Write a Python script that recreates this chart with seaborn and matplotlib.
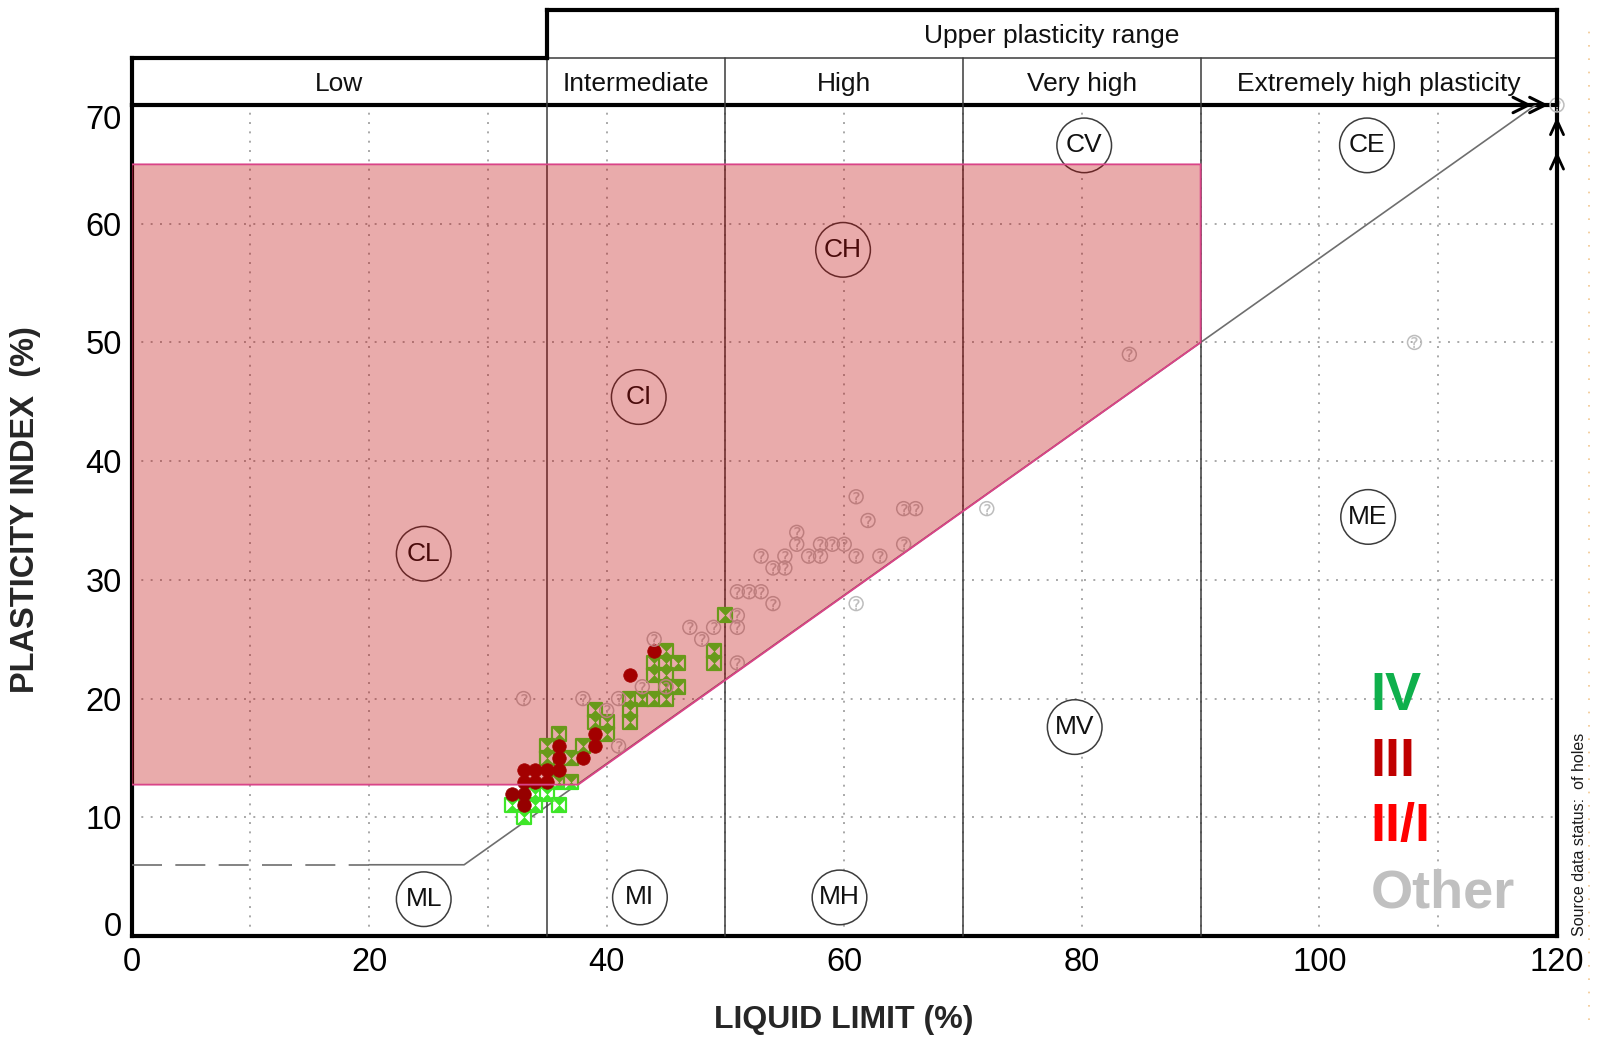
import numpy as np
import seaborn as sns
import matplotlib.pyplot as plt
from matplotlib.patches import Polygon, Circle
from matplotlib.path import Path
from matplotlib.lines import Line2D

# ---- Plasticity chart data: liquid limit (LL, %) and plasticity index (PI, %) ----
iv_ll = [50, 49, 49, 45, 44, 45, 46, 44, 45, 45, 46, 42, 43, 44, 45, 42, 42,
         39, 39, 40, 40, 36, 35, 35, 37, 38, 36, 37, 34, 35, 32, 34, 36, 33]
iv_pi = [27, 24, 23, 24, 23, 23, 23, 22, 22, 21, 21, 20, 20, 20, 20, 19, 18,
         19, 18, 18, 17, 17, 16, 15, 15, 16, 13, 13, 12, 12, 11, 11, 11, 10]

iii_ll = [44, 42, 39, 39, 38, 36, 36, 33, 34, 35, 36, 33, 34, 35, 32, 33, 33]
iii_pi = [24, 22, 17, 16, 15, 16, 15, 14, 14, 14, 14, 13, 13, 13, 12, 12, 11]

other_ll = [61, 65, 66, 72, 62, 56, 56, 58, 59, 60, 65, 53, 55, 57, 58, 61, 63,
            54, 55, 51, 52, 53, 54, 61, 51, 51, 47, 49, 48, 44, 51, 33, 38, 41,
            40, 43, 45, 41, 84, 108, 120]
other_pi = [37, 36, 36, 36, 35, 34, 33, 33, 33, 33, 33, 32, 32, 32, 32, 32, 32,
            31, 31, 29, 29, 29, 28, 28, 27, 26, 26, 26, 25, 25, 23, 20, 20, 20,
            19, 21, 21, 16, 49, 50, 70]

# A-line (solid) and its dashed low-plasticity continuation
aline_ll = [20, 28, 90, 118.2]
aline_pi = [6, 6, 50, 70]
uline_ll = [0, 20]
uline_pi = [6, 6]

# Highlighted clay zone above the A-line
zone_ll = [0, 90, 90, 37.6, 0]
zone_pi = [65, 65, 50, 12.75, 12.75]

# Plasticity range boundaries and header captions
range_bounds = [35, 50, 70, 90]
range_names = ["Low", "Intermediate", "High", "Very high", "Extremely high plasticity"]
range_centres = [17.5, 42.5, 60, 80, 105]
upper_caption = "Upper plasticity range"

# Soil group symbols
group_names = ["CL", "CI", "CH", "CV", "CE", "ME", "MV", "MH", "MI", "ML"]
group_ll = [24.6, 42.7, 59.9, 80.2, 104.0, 104.1, 79.4, 59.6, 42.8, 24.6]
group_pi = [32.2, 45.4, 57.8, 66.6, 66.6, 35.3, 17.6, 3.25, 3.25, 3.1]

# Class captions
class_names = ["IV", "III", "II/I", "Other"]
class_colors = ["#0fb04c", "#c00000", "#ff0000", "#c0c0c0"]

x_ticks = [0, 20, 40, 60, 80, 100, 120]
y_ticks = [0, 10, 20, 30, 40, 50, 60, 70]
grid_x = list(range(0, 121, 10))

sns.set_theme(style="white")
plt.rcParams["font.family"] = ["Liberation Sans", "DejaVu Sans"]

fig = plt.figure(figsize=(15.99, 10.41), dpi=100)
ax = fig.add_axes([131.5 / 1599, 1 - 936 / 1041, 1425.5 / 1599, 831 / 1041])
ax.set_xlim(0, 120)
ax.set_ylim(0, 70)

ax.set_xticks(x_ticks)
ax.set_xticklabels([str(t) for t in x_ticks])
ax.set_yticks(y_ticks)
ax.set_yticklabels([str(t) for t in y_ticks])
ax.set_xticks(grid_x, minor=True)
ax.grid(True, which="both", color="#a8a8a8", linestyle=(0, (1, 3.8)), linewidth=1.4)
ax.set_axisbelow(True)
ax.tick_params(which="both", length=0, labelsize=23.5, colors="black")
ax.tick_params(axis="x", pad=8)
ax.tick_params(axis="y", pad=7)
ylabs = ax.get_yticklabels()
ylabs[0].set_va("baseline")
ylabs[-1].set_va("top")

for s in ax.spines.values():
    s.set_linewidth(3)
    s.set_color("black")
    s.set_visible(True)

# Header frame
thick = dict(color="black", lw=3, clip_on=False, solid_capstyle="projecting", zorder=12)
ax.plot([0, 0], [70, 74], **thick)
ax.plot([0, 35], [74, 74], **thick)
ax.plot([35, 35], [74, 78], **thick)
ax.plot([35, 120], [78, 78], **thick)
ax.plot([120, 120], [70, 78], **thick)
thin = dict(color="#3a3a3a", lw=1.1, clip_on=False, zorder=6)
ax.plot([35, 120], [74, 74], **thin)
for b in range_bounds:
    ax.plot([b, b], [0, 74], **thin)

for name, xc in zip(range_names, range_centres):
    ax.text(xc, 72, name, ha="center", va="center_baseline", fontsize=19, color="#111111",
            clip_on=False)
ax.text(77.5, 76, upper_caption, ha="center", va="center_baseline", fontsize=19,
        color="#111111", clip_on=False)

# Arrow heads on the top and right frame lines
for xa in [117.6, 119.0]:
    ax.plot([xa - 1.3, xa, xa - 1.3], [70.65, 70, 69.35], color="black", lw=2.2,
            clip_on=False, zorder=13)
for ya in [68.7, 65.8]:
    ax.plot([119.45, 120, 120.55], [ya - 1.2, ya, ya - 1.2], color="black", lw=2.0,
            clip_on=False, zorder=13)

# A-line
ax.plot(aline_ll, aline_pi, color="#6e6e6e", lw=1.2, zorder=3)
ax.plot(uline_ll, uline_pi, color="#6e6e6e", lw=1.2, dashes=(18, 8), zorder=3)

# Group symbols
for name, xc, yc in zip(group_names, group_ll, group_pi):
    ax.add_patch(Circle((xc, yc), 2.3, facecolor="white", edgecolor="#3c3c3c", lw=1.1,
                        zorder=4))
    ax.text(xc, yc, name, ha="center", va="center", fontsize=19, color="#111111",
            zorder=5)

# Sample points
green = "#3ee628"
grey = "#bdbdbd"
hourglass = Path([(-1, 1), (1, 1), (-1, -1), (1, -1), (-1, 1)],
                 [Path.MOVETO, Path.LINETO, Path.LINETO, Path.LINETO, Path.CLOSEPOLY])
sns.scatterplot(x=iv_ll, y=iv_pi, marker="s", s=100, color="white", edgecolor=green,
                linewidth=1.6, ax=ax, zorder=6)
sns.scatterplot(x=iv_ll, y=iv_pi, marker=hourglass, s=100, color=green, edgecolor=green,
                linewidth=0.4, ax=ax, zorder=6)
sns.scatterplot(x=iii_ll, y=iii_pi, marker="o", s=95, color="#960000", edgecolor="#960000",
                linewidth=0.5, ax=ax, zorder=7)
sns.scatterplot(x=other_ll, y=other_pi, marker="o", s=100, facecolor="none",
                edgecolor=grey, linewidth=1.1, ax=ax, zorder=8, clip_on=False)
sns.scatterplot(x=other_ll, y=other_pi, marker="$?$", s=60, color=grey, edgecolor=grey,
                linewidth=0.2, ax=ax, zorder=8, clip_on=False)

# Highlighted zone laid over the chart
ax.add_patch(Polygon(np.column_stack([zone_ll, zone_pi]), closed=True,
                     facecolor=(0.75, 0.0, 0.0, 0.33), edgecolor="#d94488", lw=1.3,
                     zorder=10))

# Class captions
for name, col, yb in zip(class_names, class_colors, [19.06, 13.47, 7.97, 2.4]):
    ax.text(104.3, yb, name, color=col, fontsize=39, fontweight="bold", va="baseline",
            ha="left", zorder=13)

ax.set_xlabel("LIQUID LIMIT (%)", fontsize=23, fontweight="bold", va="center")
ax.xaxis.set_label_coords(0.5, -0.101)
ax.set_ylabel("PLASTICITY INDEX  (%)", fontsize=23.5, fontweight="bold", va="center",
              ha="center")
ax.yaxis.set_label_coords(-0.0744, 0.513)

fig.text(0.9875, 0.101, "Source data status:  of holes", rotation=90, ha="center",
         va="bottom", fontsize=11.5, color="#1a1a1a")
fig.add_artist(Line2D([0.9937, 0.9937], [0.02, 0.98], transform=fig.transFigure,
                      color="#f2c790", lw=1.2, ls=(0, (1, 7))))

fig.savefig("out.png", dpi=100)
